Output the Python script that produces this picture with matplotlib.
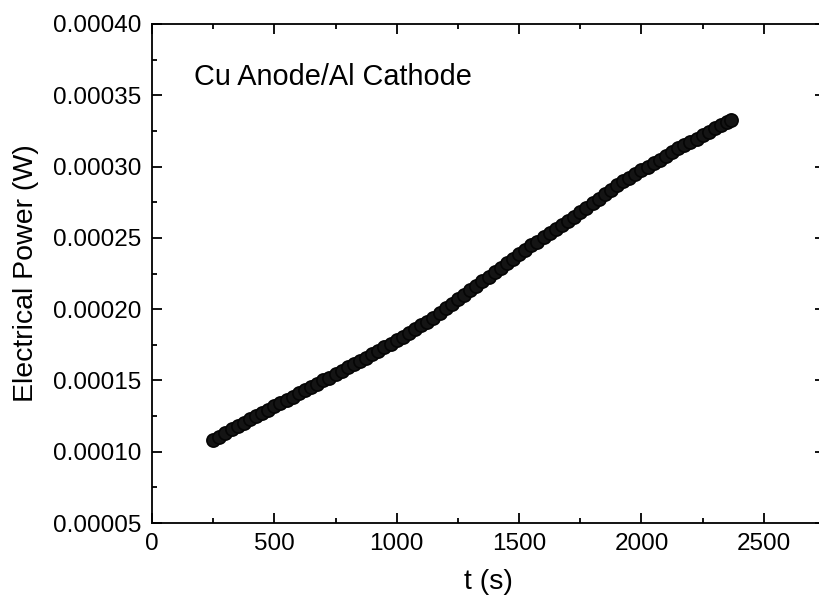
import matplotlib
matplotlib.use("Agg")
import matplotlib.pyplot as plt
from matplotlib.ticker import MultipleLocator

# ===== data (t in s, power in W) =====
t_s = [250, 275, 300, 325, 350, 375, 400, 425, 450, 475,
       500, 525, 550, 575, 600, 625, 650, 675, 700, 725,
       750, 775, 800, 825, 850, 875, 900, 925, 950, 975,
       1000, 1025, 1050, 1075, 1100, 1125, 1150, 1175, 1200, 1225,
       1250, 1275, 1300, 1325, 1350, 1375, 1400, 1425, 1450, 1475,
       1500, 1525, 1550, 1575, 1600, 1625, 1650, 1675, 1700, 1725,
       1750, 1775, 1800, 1825, 1850, 1875, 1900, 1925, 1950, 1975,
       2000, 2025, 2050, 2075, 2100, 2125, 2150, 2175, 2200, 2225,
       2250, 2275, 2300, 2325, 2350, 2367]

power_1e4 = [1.082, 1.104, 1.128, 1.157, 1.180, 1.201, 1.226, 1.247, 1.272, 1.293,
             1.318, 1.339, 1.364, 1.384, 1.409, 1.430, 1.454, 1.475, 1.500, 1.520,
             1.545, 1.566, 1.591, 1.613, 1.638, 1.659, 1.684, 1.705, 1.732, 1.756,
             1.783, 1.807, 1.835, 1.859, 1.886, 1.910, 1.941, 1.971, 2.005, 2.035,
             2.069, 2.099, 2.133, 2.163, 2.197, 2.227, 2.261, 2.291, 2.325, 2.355,
             2.389, 2.416, 2.447, 2.474, 2.505, 2.532, 2.563, 2.590, 2.621, 2.649,
             2.681, 2.710, 2.743, 2.772, 2.806, 2.835, 2.868, 2.896, 2.923, 2.946,
             2.974, 2.998, 3.026, 3.049, 3.077, 3.101, 3.129, 3.150, 3.175, 3.196,
             3.221, 3.243, 3.268, 3.289, 3.314, 3.326]

power_w = [p * 1e-4 for p in power_1e4]

LABEL_T = "t (s)"
LABEL_P = "Electrical Power (W)"
NOTE = "Cu Anode/Al Cathode"

plt.rcParams["font.family"] = ["Liberation Sans", "DejaVu Sans"]

fig = plt.figure(figsize=(8.19, 6.01), dpi=100)
# right spine sits just past the image edge in the reference
ax = fig.add_axes([152 / 819, 78 / 601, 673 / 819, 499 / 601])

ax.plot(t_s, power_w, linestyle="none", marker="o", markersize=9.5,
        markerfacecolor="#141414", markeredgecolor="#050505", markeredgewidth=1.2)

ax.set_xlim(0, 2750)
ax.set_ylim(0.00005, 0.00040)

ax.xaxis.set_major_locator(MultipleLocator(500))
ax.xaxis.set_minor_locator(MultipleLocator(250))
ax.yaxis.set_major_locator(MultipleLocator(0.00005))
ax.yaxis.set_minor_locator(MultipleLocator(0.000025))
ax.yaxis.set_major_formatter(plt.FuncFormatter(lambda v, _: f"{v:.5f}"))

ax.tick_params(which="both", direction="in", top=True, right=True, width=1.3)
ax.tick_params(which="major", length=7, labelsize=17.5, pad=7)
ax.tick_params(which="minor", length=3.8)
ax.tick_params(axis="y", which="major", pad=8)
for sp in ax.spines.values():
    sp.set_linewidth(1.3)

ax.set_xlabel(LABEL_T, fontsize=20.5, labelpad=10)
ax.set_ylabel(LABEL_P, fontsize=20.5, labelpad=10)

ax.text(172, 0.000357, NOTE, fontsize=20.8, va="baseline", ha="left")

fig.savefig("out.png", dpi=100)
plt.close(fig)
